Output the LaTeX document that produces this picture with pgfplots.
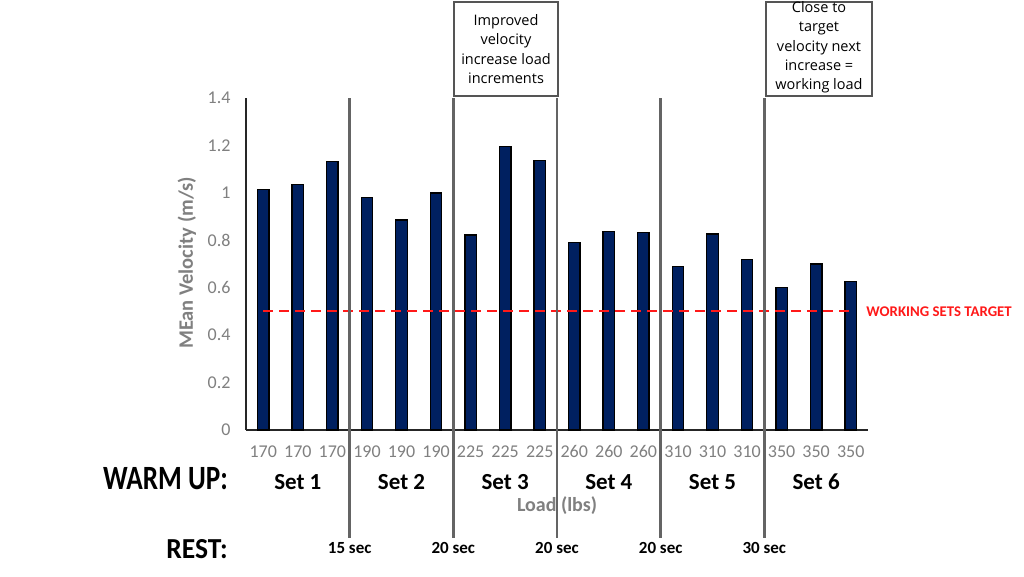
\documentclass[border=0pt]{standalone}
\usepackage{pgfplots}
\pgfplotsset{compat=1.18}
\usepackage{fontspec}
\setmainfont{Carlito}
\newfontfamily\boxfont{Open Sans}
\definecolor{barblue}{RGB}{0,32,96}
\definecolor{tickgray}{RGB}{128,128,128}
\definecolor{sepgray}{RGB}{100,100,100}
\definecolor{boxgray}{RGB}{85,85,85}
\definecolor{tgtred}{RGB}{255,25,25}
\begin{document}
\begin{tikzpicture}[x=1pt,y=1pt]
\path[use as bounding box, fill=white] (0,0) rectangle (1024,577);
\begin{axis}[
  at={(246pt,147pt)}, anchor=south west,
  scale only axis, width=622pt, height=332pt,
  xmin=-0.5, xmax=17.5, ymin=0, ymax=1.4,
  axis x line=bottom, axis y line=left,
  axis line style={-, line width=2pt, black!85},
  ytick={0,0.2,0.4,0.6,0.8,1,1.2,1.4},
  xtick={0,1,2,3,4,5,6,7,8,9,10,11,12,13,14,15,16,17},
  xticklabels={170,170,170,190,190,190,225,225,225,260,260,260,310,310,310,350,350,350},
  major tick length=0pt,
  tick label style={font=\fontsize{18}{20}\selectfont, text=tickgray},
  /pgf/number format/assume math mode=true,
  yticklabel style={xshift=-12pt},
  xticklabel style={yshift=-12pt},
  clip=false,
]
\addplot[ybar, bar width=11.5pt, bar shift=0pt, fill=barblue, draw=black, line width=1.3pt]
  coordinates {(0,1.015)(1,1.034)(2,1.132)(3,0.981)(4,0.885)(5,1.0)(6,0.822)(7,1.194)(8,1.136)
               (9,0.791)(10,0.837)(11,0.833)(12,0.690)(13,0.826)(14,0.719)(15,0.602)(16,0.700)(17,0.627)};
\addplot[tgtred, line width=2pt, dash pattern=on 10pt off 6pt] coordinates {(0,0.5) (17,0.5)};
\node[anchor=west, text=tgtred, font=\bfseries\fontsize{14.8}{16}\selectfont, inner sep=0pt] at (axis cs:17.45,0.5) {WORKING SETS TARGET};
\pgfplotsinvokeforeach{2.5,5.5,8.5,11.5,14.5}{
  \draw[sepgray, line width=2.5pt] (axis cs:#1,-0.455) -- (axis cs:#1,1.4);
}
\node[font=\bfseries\fontsize{23}{25}\selectfont] at (axis cs:1,-0.219) {Set 1};
\node[font=\bfseries\fontsize{23}{25}\selectfont] at (axis cs:4,-0.219) {Set 2};
\node[font=\bfseries\fontsize{23}{25}\selectfont] at (axis cs:7,-0.219) {Set 3};
\node[font=\bfseries\fontsize{23}{25}\selectfont] at (axis cs:10,-0.219) {Set 4};
\node[font=\bfseries\fontsize{23}{25}\selectfont] at (axis cs:13,-0.219) {Set 5};
\node[font=\bfseries\fontsize{23}{25}\selectfont] at (axis cs:16,-0.219) {Set 6};
\node[font=\bfseries\fontsize{17}{19}\selectfont] at (axis cs:2.5,-0.498) {15 sec};
\node[font=\bfseries\fontsize{17}{19}\selectfont] at (axis cs:5.5,-0.498) {20 sec};
\node[font=\bfseries\fontsize{17}{19}\selectfont] at (axis cs:8.5,-0.498) {20 sec};
\node[font=\bfseries\fontsize{17}{19}\selectfont] at (axis cs:11.5,-0.498) {20 sec};
\node[font=\bfseries\fontsize{17}{19}\selectfont] at (axis cs:14.5,-0.498) {30 sec};
\end{axis}
% axis titles
\node[rotate=90, text=tickgray, font=\bfseries\fontsize{20.5}{22}\selectfont] at (187,314) {MEan Velocity (m/s)};
\node[anchor=base, text=tickgray, font=\bfseries\fontsize{20}{22}\selectfont] at (557,65.5) {Load (lbs)};
% row labels
\node[anchor=east, inner sep=0pt, xscale=0.8, font=\bfseries\fontsize{34}{36}\selectfont] at (228,98) {WARM UP:};
\node[anchor=east, inner sep=0pt, xscale=0.95, font=\bfseries\fontsize{29}{31}\selectfont] at (228,28.3) {REST:};
% annotation boxes
\draw[boxgray, line width=2.4pt, fill=white] (454,481) rectangle (558,575);
\node[align=center, font=\boxfont\fontsize{14.5}{19.3}\selectfont] at (506,528) {Improved\\velocity\\increase load\\increments};
\draw[boxgray, line width=2.4pt, fill=white] (766,481) rectangle (872,575);
\node[align=center, font=\boxfont\fontsize{14.5}{19.3}\selectfont] at (819,529.5) {Close to\\target\\velocity next\\increase =\\working load};
\end{tikzpicture}
\end{document}
